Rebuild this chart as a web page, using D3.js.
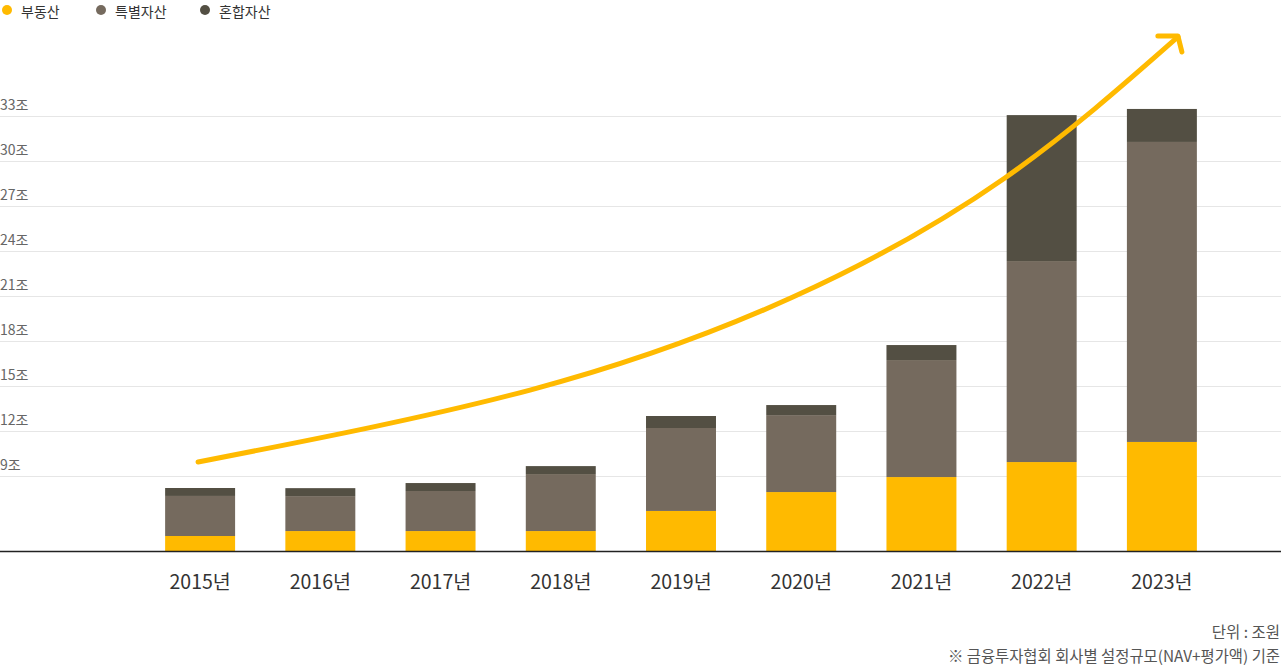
<!DOCTYPE html>
<html><head><meta charset="utf-8">
<script src="https://cdn.jsdelivr.net/npm/d3@7"></script>
<style>
html,body{margin:0;padding:0;background:#fff;}
svg{display:block;font-family:"Noto Sans CJK KR","Noto Sans",sans-serif;}
</style></head>
<body>
<svg id="chart" width="1281" height="666"></svg>
<script>
// ---- data (조원) ----
const years = ["2015년","2016년","2017년","2018년","2019년","2020년","2021년","2022년","2023년"];
const seriesNames = ["부동산","특별자산","혼합자산"];
const realEstate = [1.0, 1.33, 1.33, 1.33, 2.67, 3.93, 4.93, 5.93, 7.27];
const specialAsset = [2.67, 2.33, 2.67, 3.8, 5.53, 5.13, 7.8, 13.4, 20.0];
const mixedAsset = [0.53, 0.53, 0.53, 0.53, 0.8, 0.67, 1.0, 9.73, 2.2];
const tickValues = [9,12,15,18,21,24,27,30,33];
const tickLabels = ["9조","12조","15조","18조","21조","24조","27조","30조","33조"];
const axisBase = 4; // value at the chart's baseline
// trend arrow, in (category index, 조) units
const trendIdx = [-0.017, 2.744, 4.931, 6.694, 8.133];
const trendVal = [9.93, 14.73, 20.93, 28.87, 38.27];
const colors = ["#FFBA00","#756A5E","#534F43"];

const svg = d3.select("#chart");
const W = 1281;

const x = d3.scaleBand().domain(years).range([140, 1222]).paddingInner(0.418).paddingOuter(0.209);
const y = d3.scaleLinear().domain([axisBase, 36]).range([551, 71]);
const xi = d3.scaleLinear().domain([0, years.length-1]).range([x(years[0])+x.bandwidth()/2, x(years[years.length-1])+x.bandwidth()/2]);

// gridlines + tick labels
const yAxis = d3.axisLeft(y).tickValues(tickValues).tickSize(-W).tickFormat((d,i)=>tickLabels[i]);
const ga = svg.append("g").call(yAxis);
ga.select(".domain").remove();
ga.selectAll(".tick line").attr("x1",0).attr("x2",W).attr("stroke","#E6E6E6").attr("stroke-width",1.2);
ga.selectAll(".tick text").attr("x",0).attr("dy","-7").attr("text-anchor","start")
  .attr("fill","#666").attr("font-size",14).attr("font-family","'Noto Sans CJK KR',sans-serif");

// stacked bars
const table = years.map((yr,i)=>({year:yr, "부동산":realEstate[i], "특별자산":specialAsset[i], "혼합자산":mixedAsset[i]}));
const stack = d3.stack().keys(seriesNames).offset((series, order)=>{
  d3.stackOffsetNone(series, order);
  for (const s of series) for (const p of s) { p[0]+=axisBase; p[1]+=axisBase; }
});
const stacked = stack(table);
svg.append("g").selectAll("g").data(stacked).join("g").attr("fill",(d,i)=>colors[i])
  .selectAll("rect").data(d=>d).join("rect")
  .attr("x",d=>x(d.data.year)).attr("width",x.bandwidth())
  .attr("y",d=>y(d[1])).attr("height",d=>y(d[0])-y(d[1]));

// baseline
svg.append("line").attr("x1",0).attr("x2",W).attr("y1",y(axisBase)+0.5).attr("y2",y(axisBase)+0.5)
  .attr("stroke","#222").attr("stroke-width",1.6);

// x labels
const xAxis = d3.axisBottom(x).tickSize(0).tickPadding(0);
const gx = svg.append("g").attr("transform",`translate(0,${y(axisBase)})`).call(xAxis);
gx.select(".domain").remove();
gx.selectAll(".tick text").attr("y",38).attr("dy",0).attr("fill","#333").attr("font-size",19.5)
  .attr("font-family","'Noto Sans CJK KR',sans-serif");

// trend arrow
const trend = trendIdx.map((t,i)=>[xi(t), y(trendVal[i])]);
const line = d3.line().curve(d3.curveNatural);
svg.append("path").attr("d",line(trend)).attr("fill","none").attr("stroke","#FFBA00")
  .attr("stroke-width",5).attr("stroke-linecap","round");
const tip = trend[trend.length-1];
svg.append("path").attr("d",`M${tip[0]-20},${tip[1]-1}L${tip[0]},${tip[1]-1}L${tip[0]+4},${tip[1]+15}`)
  .attr("fill","none").attr("stroke","#FFBA00").attr("stroke-width",5)
  .attr("stroke-linecap","round").attr("stroke-linejoin","round");

// legend
const legX = [7, 101, 205];
const lg = svg.append("g").selectAll("g").data(seriesNames).join("g")
  .attr("transform",(d,i)=>`translate(${legX[i]},10)`);
lg.append("circle").attr("r",5).attr("fill",(d,i)=>colors[i]);
lg.append("text").attr("x",14).attr("y",6.5).text(d=>d).attr("font-size",14).attr("fill","#333");

// footnotes
svg.append("text").attr("x",1280).attr("y",638).attr("text-anchor","end").attr("font-size",15.5)
  .attr("fill","#555").text("단위 : 조원");
svg.append("text").attr("x",1280).attr("y",662).attr("text-anchor","end").attr("font-size",15.4)
  .attr("fill","#555").text("※ 금융투자협회 회사별 설정규모(NAV+평가액) 기준");
</script>
</body></html>
